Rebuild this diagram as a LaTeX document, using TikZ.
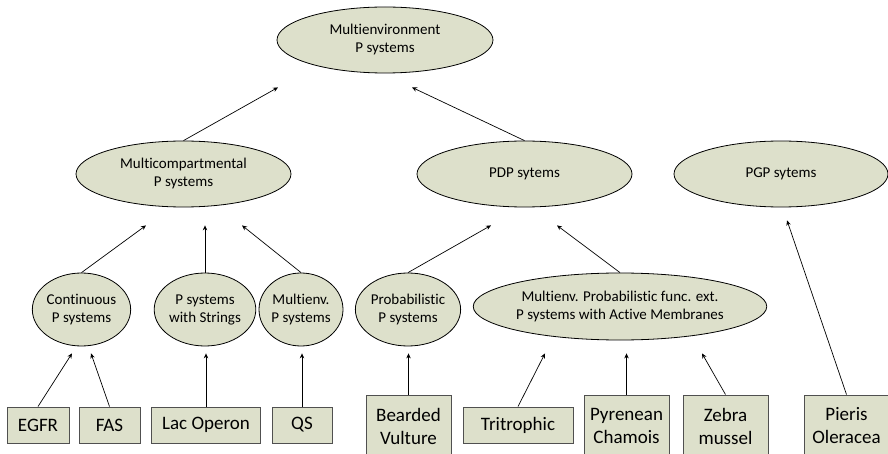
\documentclass[tikz,border=0pt]{standalone}
\usepackage{fontspec}
\setmainfont{Carlito}[Ligatures={NoCommon}]
\usetikzlibrary{shapes.geometric,arrows.meta}
\definecolor{olivefill}{RGB}{221,224,203}
\definecolor{boxline}{RGB}{80,80,80}
\begin{document}
\begin{tikzpicture}[x=1pt,y=-1pt,
    oval/.style={ellipse, draw=black, line width=0.8pt, fill=olivefill, inner sep=0pt, align=center, font=\fontsize{15}{18}\selectfont},
    casebox/.style={rectangle, draw=boxline, line width=0.9pt, fill=olivefill, inner sep=0pt, align=center, minimum height=36pt, font=\fontsize{19}{23}\selectfont},
    tallbox/.style={casebox, minimum width=85pt, minimum height=62pt},
    arr/.style={-{Stealth[length=5pt,width=4.5pt]}, line width=0.7pt}]
    \useasboundingbox (0,0) rectangle (888,454);
    \node[oval, minimum width=216pt, minimum height=66pt] (menv) at (385,40) {Multienvironment\\P systems};
    \node[oval, minimum width=215pt, minimum height=66pt] (mcomp) at (183.5,174) {Multicompartmental\\P systems};
    \node[oval, minimum width=215pt, minimum height=66pt] (pdp) at (524.5,174) {PDP sytems};
    \node[oval, minimum width=214pt, minimum height=66pt] (pgp) at (781,174) {PGP sytems};
    \node[oval, minimum width=85pt, minimum height=73pt] (cont) at (81.5,309.5) {Continuous\\P systems};
    \node[oval, minimum width=82pt, minimum height=73pt] (pstr) at (205,309.5) {P systems\\with Strings};
    \node[oval, minimum width=84pt, minimum height=73pt] (menvp) at (301,309.5) {Multienv.\\P systems};
    \node[oval, minimum width=84pt, minimum height=73pt] (prob) at (408,309.5) {Probabilistic\\P systems};
    \node[oval, minimum width=274pt, minimum height=67pt] (mpfe) at (620,306.5) {Multienv. Probabilistic func. ext.\\P systems with Active Membranes};
    \node[casebox, minimum width=62pt] (egfr) at (38,425) {EGFR};
    \node[casebox, minimum width=61pt] (fas) at (109.5,425) {FAS};
    \node[casebox, minimum width=109pt] (lac) at (206,425) {Lac Operon};
    \node[casebox, minimum width=60pt] (qs) at (302,425) {QS};
    \node[tallbox] (bv) at (408.5,426) {Bearded\\Vulture};
    \node[casebox, minimum width=110pt] (tri) at (518,425) {Tritrophic};
    \node[tallbox] (pyr) at (626.5,426) {Pyrenean\\Chamois};
    \node[tallbox] (zeb) at (725.5,426) {Zebra\\mussel};
    \node[tallbox] (pie) at (846.5,426) {Pieris\\Oleracea};
    \draw[arr] (mcomp.north) -- ([xshift=-107pt,yshift=-14pt]menv.south);
    \draw[arr] (pdp.north) -- ([xshift=27pt,yshift=-14pt]menv.south);
    \draw[arr] (cont.north) -- ([xshift=-37.5pt,yshift=-18pt]mcomp.south);
    \draw[arr, shorten >=18pt] (pstr.north) -- (pstr.north |- mcomp.south);
    \draw[arr] (menvp.north) -- ([xshift=58.5pt,yshift=-18pt]mcomp.south);
    \draw[arr] (prob.north) -- ([xshift=-33.5pt,yshift=-18pt]pdp.south);
    \draw[arr] (mpfe.north) -- ([xshift=32.5pt,yshift=-18pt]pdp.south);
    \draw[arr] (pie.north) -- ([xshift=6pt,yshift=-13pt]pgp.south);
    \draw[arr] (egfr.north) -- ([xshift=-9.5pt,yshift=-7pt]cont.south);
    \draw[arr] (fas.north) -- ([xshift=9.5pt,yshift=-7pt]cont.south);
    \draw[arr, shorten >=7pt] (lac.north) -- (lac.north |- pstr.south);
    \draw[arr, shorten >=7pt] (qs.north) -- (qs.north |- menvp.south);
    \draw[arr, shorten >=7pt] (bv.north) -- (bv.north |- prob.south);
    \draw[arr] (tri.north) -- ([xshift=-75pt,yshift=-13pt]mpfe.south);
    \draw[arr, shorten >=13pt] (pyr.north) -- (pyr.north |- mpfe.south);
    \draw[arr] (zeb.north) -- ([xshift=82pt,yshift=-13pt]mpfe.south);
\end{tikzpicture}
\end{document}
